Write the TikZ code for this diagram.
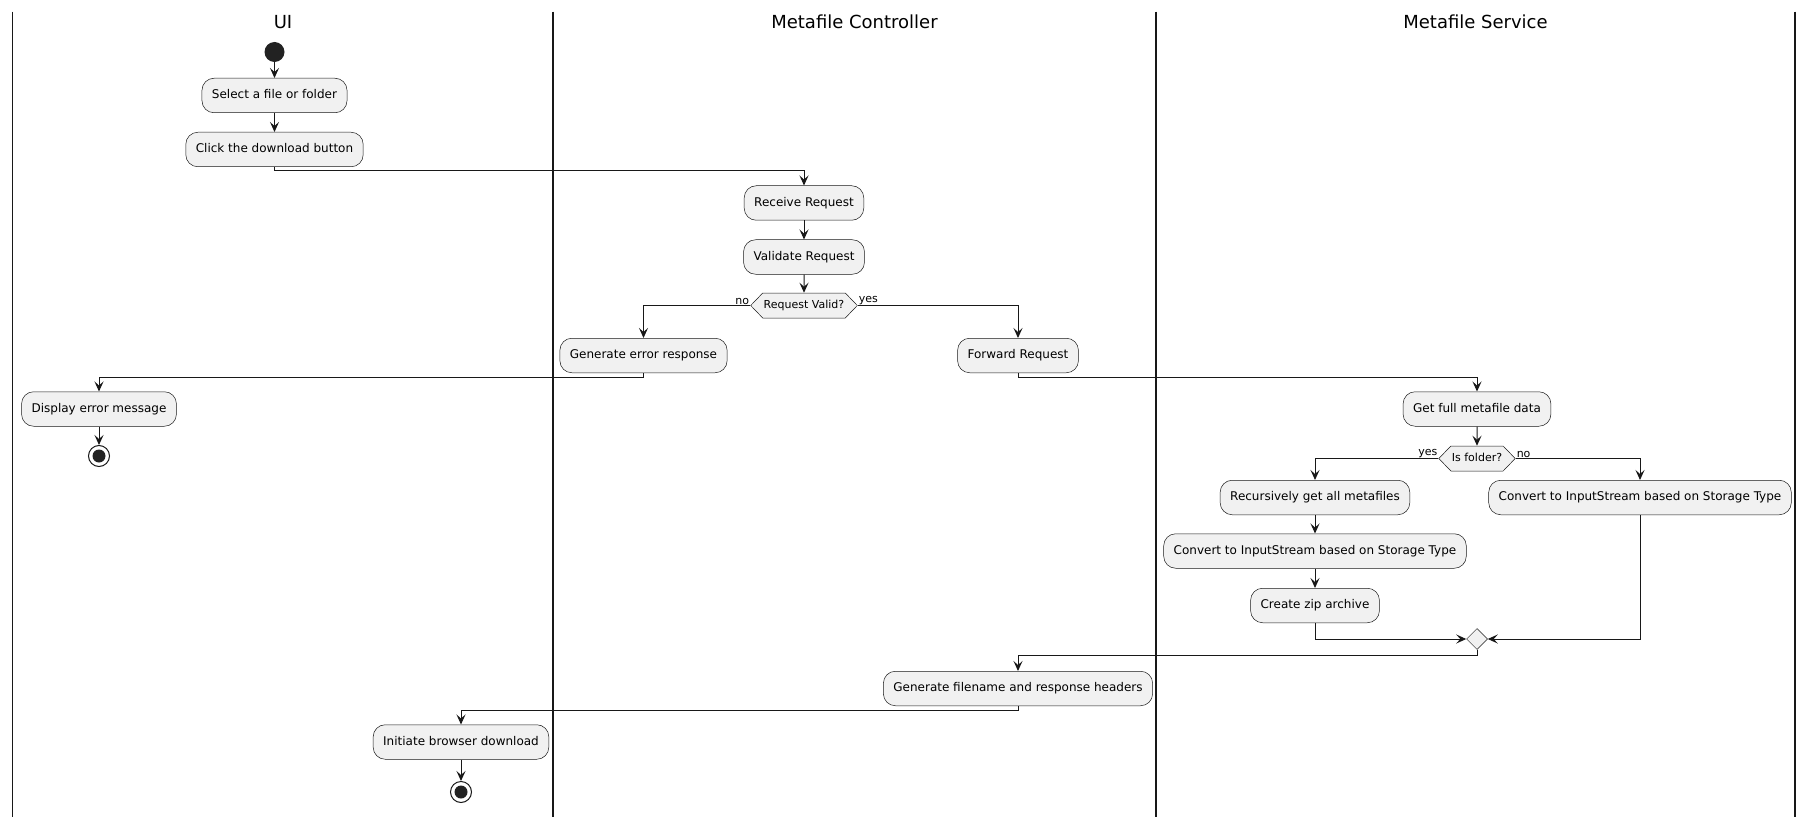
\documentclass[tikz,border=0pt]{standalone}
\usepackage{fontspec}
\setmainfont{DejaVu Sans}
\usetikzlibrary{arrows.meta,shapes.geometric,shapes.symbols}
\definecolor{actfill}{HTML}{F1F1F1}
\definecolor{ink}{HTML}{181818}
\definecolor{dot}{HTML}{222222}

\begin{document}
\begin{tikzpicture}[x=1pt,y=-1pt,
  act/.style={draw=ink, line width=0.5pt, fill=actfill, rounded corners=12pt,
    minimum height=34.5pt, inner xsep=10pt, text height=9pt, text depth=2.5pt,
    font=\fontsize{12}{14}\selectfont},
  cond/.style={draw=ink, line width=0.5pt, fill=actfill, signal, signal to=east and west,
    signal pointer angle=92, inner xsep=1pt, inner ysep=0pt, minimum height=25pt,
    text height=8pt, text depth=2.5pt, font=\fontsize{11}{13}\selectfont},
  merge/.style={draw=ink, line width=0.5pt, fill=actfill, diamond, inner sep=0pt, minimum size=21pt},
  startnode/.style={circle, fill=dot, inner sep=0pt, minimum size=20pt},
  stopnode/.style={circle, draw=ink, line width=1pt, fill=white, inner sep=0pt, minimum size=21pt,
    path picture={\fill[dot] (path picture bounding box.center) circle (6.5pt);}},
  guard/.style={inner sep=1pt, font=\fontsize{11}{13}\selectfont},
  lanetitle/.style={anchor=base, font=\fontsize{18}{21}\selectfont},
  lane/.style={line width=1.5pt, draw=ink},
  flow/.style={draw=ink, line width=1pt, -{Stealth[length=10pt,width=9pt,inset=4pt]}}]

\useasboundingbox (0,0) rectangle (1815,829);

\draw[lane] (12.7,11.6) -- (12.7,817);
\draw[lane] (553,11.6) -- (553,817);
\draw[lane] (1156,11.6) -- (1156,817);
\draw[lane] (1795,11.6) -- (1795,817);

\node[lanetitle] (ui) at (283,28.5) {UI};
\node[lanetitle] (ctrl) at (854.5,28.5) {Metafile Controller};
\node[lanetitle] (svc) at (1475.5,28.5) {Metafile Service};

\node[startnode] (start) at (274.5,52) {};
\node[act] (select) at (274.5,95.5) {Select a file or folder};
\node[act] (click) at (274.5,149.5) {Click the download button};
\node[act] (receive) at (804,203) {Receive Request};
\node[act] (validate) at (804,257) {Validate Request};
\node[cond] (valid) at (804,305.5) {Request Valid?};
\node[act] (error) at (643.5,355.5) {Generate error response};
\node[act] (forward) at (1018,355.5) {Forward Request};
\node[act] (display) at (99,409) {Display error message};
\node[stopnode] (stopa) at (99,456) {};
\node[act] (getdata) at (1477,409) {Get full metafile data};
\node[cond] (folder) at (1477,458.5) {Is folder?};
\node[act] (recurse) at (1315,497.5) {Recursively get all metafiles};
\node[act] (convb) at (1640,497.5) {Convert to InputStream based on Storage Type};
\node[act] (conva) at (1315,551) {Convert to InputStream based on Storage Type};
\node[act] (zip) at (1315,605.5) {Create zip archive};
\node[merge] (join) at (1477,639) {};
\node[act] (headers) at (1018,688.5) {Generate filename and response headers};
\node[act] (browser) at (461,742) {Initiate browser download};
\node[stopnode] (stopb) at (461,792) {};

\draw[flow] (start) -- (select);
\draw[flow] (select) -- (click);
\draw[flow] (click.south) -- ++(0,4) -| (receive.north);
\draw[flow] (receive) -- (validate);
\draw[flow] (validate) -- (valid);
\draw[flow] (valid.west) -| (error.north);
\draw[flow] (valid.east) -| (forward.north);
\draw[flow] (error.south) -- ++(0,4) -| (display.north);
\draw[flow] (display) -- (stopa);
\draw[flow] (forward.south) -- ++(0,4) -| (getdata.north);
\draw[flow] (getdata) -- (folder);
\draw[flow] (folder.west) -| (recurse.north);
\draw[flow] (folder.east) -| (convb.north);
\draw[flow] (recurse) -- (conva);
\draw[flow] (conva) -- (zip);
\draw[flow] (zip.south) |- (join.west);
\draw[flow] (convb.south) |- (join.east);
\draw[flow] (join.south) -- ++(0,6) -| (headers.north);
\draw[flow] (headers.south) -- ++(0,4) -| (browser.north);
\draw[flow] (browser) -- (stopb);

\node[guard, anchor=south east] at (valid.west) {no};
\node[guard, anchor=south west] at (valid.east) {yes};
\node[guard, anchor=south east] at (folder.west) {yes};
\node[guard, anchor=south west] at (folder.east) {no};
\end{tikzpicture}
\end{document}
